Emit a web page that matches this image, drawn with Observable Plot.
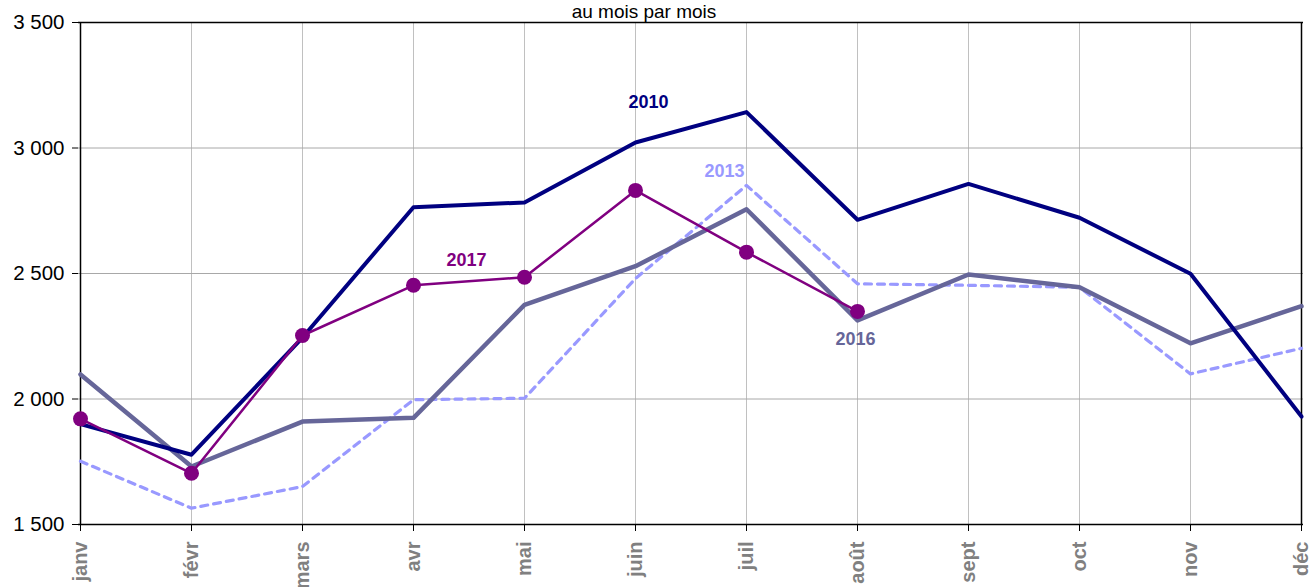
<!DOCTYPE html>
<html>
<head>
<meta charset="utf-8">
<script src="https://cdn.jsdelivr.net/npm/d3@7"></script>
<script src="https://cdn.jsdelivr.net/npm/@observablehq/plot@0.6"></script>
<style>
  html, body { margin: 0; padding: 0; background: #fff; }
  #chart svg { display: block; }
</style>
</head>
<body>
<div id="chart"></div>
<script>
const months = ["janv","févr","mars","avr","mai","juin","juil","août","sept","oct","nov","déc"];
const v2010 = [1900,1778,2245,2764,2783,3022,3143,2714,2857,2722,2499,1930];
const v2013 = [1752,1565,1651,1997,2003,2480,2851,2459,2453,2445,2100,2202];
const v2016 = [2098,1731,1910,1925,2375,2529,2756,2313,2496,2445,2222,2370];
const v2017 = [1921,1704,2253,2453,2485,2831,2585,2349];
const yTicks = [1500,2000,2500,3000,3500];
const gridValues = [2000,2500,3000];
const titleText = ["au mois par mois"];
const seriesLabels = [
  {name: "2010", month: "juin", value: 3181, color: "#000080", dx: 13},
  {name: "2013", month: "juil", value: 2906, color: "#9999FF", dx: -22},
  {name: "2017", month: "avr",  value: 2552, color: "#800080", dx: 53},
  {name: "2016", month: "août", value: 2237, color: "#666699", dx: -2}
];

const toRows = (vals) => vals.map((v, i) => ({month: months[i], value: v}));
const d2010 = toRows(v2010), d2013 = toRows(v2013), d2016 = toRows(v2016), d2017 = toRows(v2017);
const fmt = d => d3.format(",")(d).replace(/,/g, " ");

const chart = Plot.plot({
  width: 1311,
  height: 587,
  marginLeft: 78,
  marginRight: 8,
  marginTop: 22,
  marginBottom: 63,
  style: {fontFamily: "Arial, 'Liberation Sans', sans-serif", background: "#fff", overflow: "visible"},
  x: {type: "point", domain: months, padding: 0},
  y: {domain: [1500, 3500]},
  marks: [
    Plot.ruleX(months, {stroke: "#c0c0c0", strokeWidth: 1}),
    Plot.ruleY(gridValues, {stroke: "#a8a8a8", strokeWidth: 1}),
    Plot.ruleY([3500], {stroke: "#000", strokeWidth: 1.5}),
    Plot.ruleY([1500], {stroke: "#000", strokeWidth: 1.5}),
    Plot.ruleX([months[0]], {stroke: "#000", strokeWidth: 1.5}),
    Plot.ruleX([months[months.length - 1]], {stroke: "#000", strokeWidth: 1.5}),
    Plot.axisY({ticks: yTicks, tickFormat: fmt, tickSize: 6, tickPadding: 8, fontSize: 20.5, fill: "#000", stroke: "#000", label: null}),
    Plot.axisX({tickSize: 7, tickPadding: 10, tickRotate: -90, fontSize: 20, fontWeight: "bold", fill: "#808080", stroke: "#000", label: null}),
    Plot.line(d2013, {x: "month", y: "value", stroke: "#9999FF", strokeWidth: 3.2, strokeDasharray: "7,6"}),
    Plot.line(d2016, {x: "month", y: "value", stroke: "#666699", strokeWidth: 4.5}),
    Plot.line(d2010, {x: "month", y: "value", stroke: "#000080", strokeWidth: 4}),
    Plot.line(d2017, {x: "month", y: "value", stroke: "#800080", strokeWidth: 2.5}),
    Plot.dot(d2017, {x: "month", y: "value", r: 7.5, fill: "#800080", stroke: null}),
    ...seriesLabels.map(l => Plot.text([l], {x: "month", y: "value", text: "name", fill: l.color, dx: l.dx, fontSize: 18, fontWeight: "bold"})),
    Plot.text(titleText, {frameAnchor: "top", text: d => d, dx: -47, dy: -5, lineAnchor: "bottom", fontSize: 19, fill: "#000", ariaLabel: "title"})
  ]
});
const t = chart.querySelector('g[aria-label="title"]');
if (t) t.setAttribute("letter-spacing", "2.2");
document.getElementById("chart").appendChild(chart);
</script>
</body>
</html>
